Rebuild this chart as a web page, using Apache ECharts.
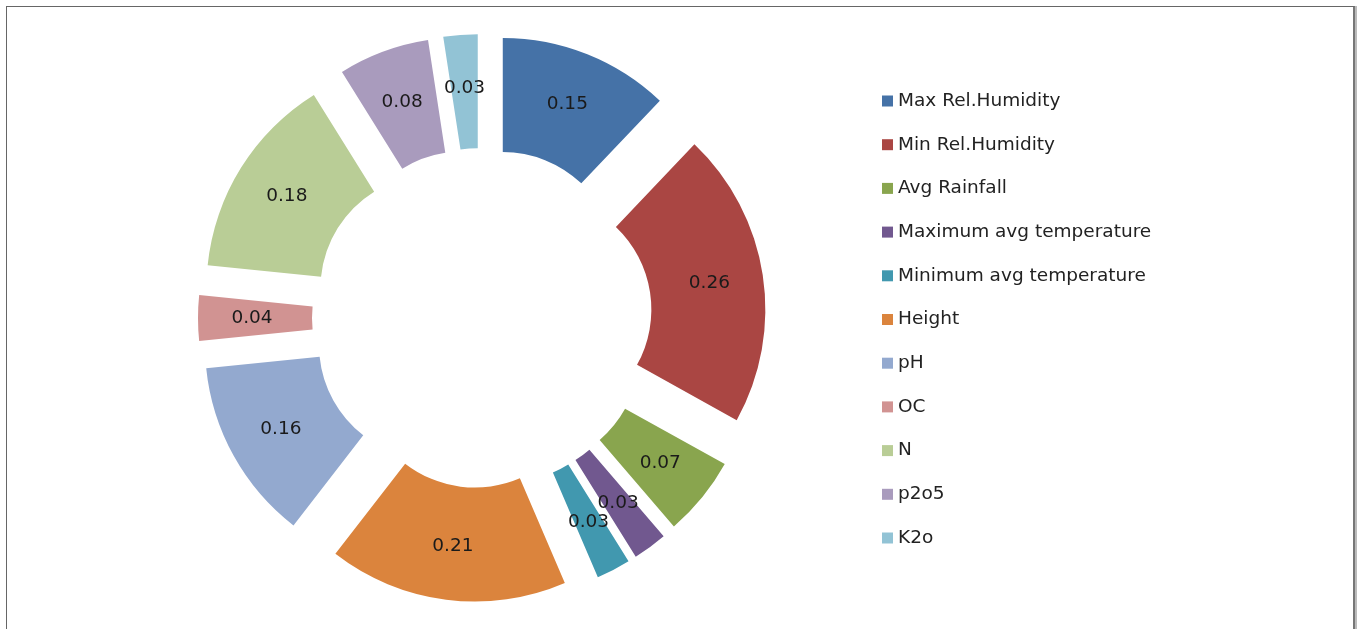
<!DOCTYPE html>
<html>
<head>
<meta charset="utf-8">
<script src="https://cdn.jsdelivr.net/npm/echarts@6/dist/echarts.min.js"></script>
<style>
  html, body { margin: 0; padding: 0; background: #fff; }
  #frame {
    position: absolute; left: 6px; top: 6px; width: 1346px; height: 640px;
    border: 1px solid #666; border-right: 2px solid #777; box-shadow: 2px 0 0 #bbb;
  }
  #chart { position: absolute; left: 0; top: 0; width: 1357px; height: 629px; }
</style>
</head>
<body>
<div id="frame"></div>
<div id="chart"></div>
<script>
// 各因子权重
var names = ['Max Rel.Humidity', 'Min Rel.Humidity', 'Avg Rainfall', 'Maximum avg temperature',
  'Minimum avg temperature', 'Height', 'pH', 'OC', 'N', 'p2o5', 'K2o']
var values = [0.15, 0.26, 0.07, 0.03, 0.03, 0.21, 0.16, 0.04, 0.18, 0.08, 0.03]
var colors = ['#4572A7', '#AA4643', '#89A54E', '#71588F', '#4198AF', '#DB843D',
  '#93A9CF', '#D19392', '#B9CD96', '#A99BBD', '#92C3D5']

var myChart = echarts.init(document.getElementById('chart'))
myChart.setOption({
  animation: false,
  color: colors,
  legend: {
    orient: 'vertical',
    left: 877,
    top: 86,
    itemWidth: 11,
    itemHeight: 11,
    itemGap: 23.7,
    icon: 'rect',
    selectedMode: false,
    textStyle: {
      fontFamily: 'DejaVu Sans',
      fontSize: 18.5,
      lineHeight: 20,
      color: '#222'
    },
    data: names
  },
  series: [
    {
      type: 'pie',
      center: [482, 318],
      radius: [114, 228],
      startAngle: 90,
      clockwise: true,
      selectedMode: 'multiple',
      selectedOffset: 56,
      avoidLabelOverlap: false,
      minShowLabelAngle: 0,
      label: {
        show: true,
        position: 'inside',
        formatter: '{c}',
        fontFamily: 'DejaVu Sans',
        fontSize: 18.5,
        color: '#1a1a1a',
        padding: [6, 0, 0, 0]
      },
      labelLine: { show: false },
      labelLayout: { hideOverlap: false },
      emphasis: { disabled: true },
      data: names.map(function (n, i) {
        return { name: n, value: values[i], selected: true }
      })
    }
  ]
})
</script>
</body>
</html>
